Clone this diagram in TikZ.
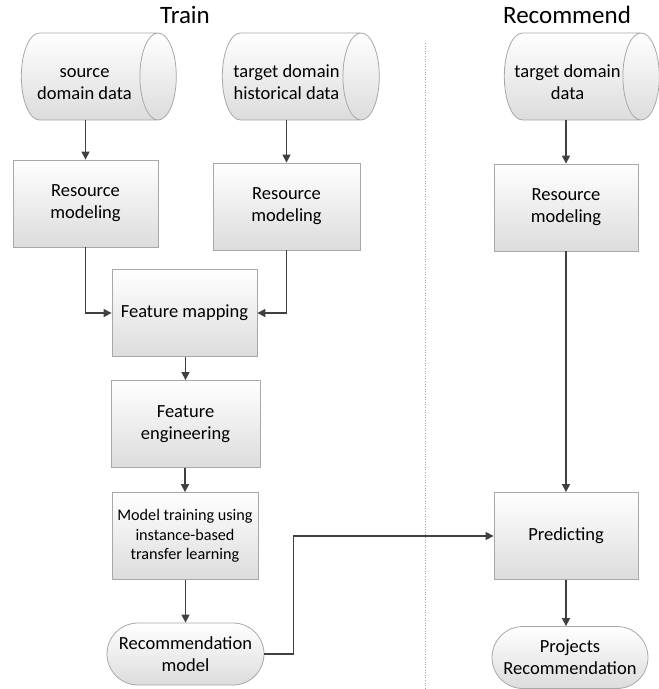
\documentclass[tikz,border=0pt]{standalone}
\usepackage{fontspec}
\setmainfont{Carlito}
\usetikzlibrary{arrows.meta,shapes.geometric,shapes.misc}
\definecolor{edgegray}{HTML}{A8A8A8}
\definecolor{arrowgray}{HTML}{404040}
\definecolor{fillbot}{HTML}{DCDCDC}
\newcommand{\cyltext}[1]{\hspace*{-10pt}\raisebox{-4pt}[\dimexpr\height+8pt\relax][\depth]{\begin{tabular}{@{}c@{}}#1\end{tabular}}}
\tikzset{
  procbox/.style={draw=edgegray, line width=0.8pt, top color=white, bottom color=fillbot,
    minimum width=#1, minimum height=87pt, inner sep=0pt, align=center, font=\fontsize{18.5}{22}\selectfont},
  procbox/.default=145pt,
  datacyl/.style={cylinder, shape border rotate=0, shape aspect=0.7, draw=edgegray, line width=0.8pt,
    top color=white, bottom color=fillbot, minimum width=87pt, minimum height=#1,
    inner sep=0pt, font=\fontsize{18.5}{22}\selectfont},
  termnode/.style={rounded rectangle, draw=edgegray, line width=0.8pt, top color=white, bottom color=fillbot,
    minimum width=#1, minimum height=62pt, inner sep=0pt, align=center, font=\fontsize{18.5}{22}\selectfont},
  flow/.style={draw=arrowgray, line width=1.3pt, -{Triangle[width=8pt,length=8pt]}},
  title/.style={font=\fontsize{25}{29}\selectfont, inner sep=0pt}
}
\begin{document}
\begin{tikzpicture}[x=1pt,y=-1pt]
\useasboundingbox (0,0) rectangle (659,689);
% titles
\node[title] (ttrain) at (185,15) {Train};
\node[title] (trec) at (567,15) {Recommend};
% divider
\coordinate (divtop) at (425,43);
\coordinate (divbot) at (425,689);
\draw[gray!70, line width=0.6pt, dotted] (divtop) -- (divbot);
% data stores
\node[datacyl=155pt] (cyl1) at (89.5,76.5) {\cyltext{source\\domain data}};
\node[datacyl=157pt] (cyl2) at (291.5,76.5) {\cyltext{target domain\\historical data}};
\node[datacyl=155pt] (cyl3) at (572.5,76.5) {\cyltext{target domain\\data}};
% processes
\node[procbox=145pt] (rm1) at (85.5,203.5) {Resource\\modeling};
\node[procbox=147pt] (rm2) at (286.5,206.5) {Resource\\modeling};
\node[procbox=144pt] (rm3) at (566,207.5) {Resource\\modeling};
\node[procbox=145pt] (fm) at (184.5,313) {Feature mapping};
\node[procbox=149pt] (fe) at (185.5,424) {Feature\\engineering};
\node[procbox=146pt, font=\fontsize{16.2}{19.5}\selectfont] (mt) at (185,536) {Model training using\\instance-based\\transfer learning};
\node[procbox=144pt] (pred) at (566,536) {Predicting};
% terminals
\node[termnode=157pt] (recm) at (185.5,654) {Recommendation\\model};
\node[termnode=156pt] (proj) at (570,657.5) {Projects\\Recommendation};
% connectors
\draw[flow] (rm1.north |- cyl1.south) -- (rm1.north);
\draw[flow] (rm2.north |- cyl2.south) -- (rm2.north);
\draw[flow] (rm3.north |- cyl3.south) -- (rm3.north);
\draw[flow] (rm1.south) |- (fm.west);
\draw[flow] (rm2.south) |- (fm.east);
\draw[flow] (fm.south -| fe.north) -- (fe.north);
\draw[flow] (fe.south -| mt.north) -- (mt.north);
\draw[flow] (mt.south -| recm.north) -- (recm.north);
\draw[flow] (rm3.south) -- (pred.north);
\draw[flow] (recm.east) -- ++(29,0) |- (pred.west);
\draw[flow] (pred.south) -- (pred.south |- proj.north);
\end{tikzpicture}
\end{document}
